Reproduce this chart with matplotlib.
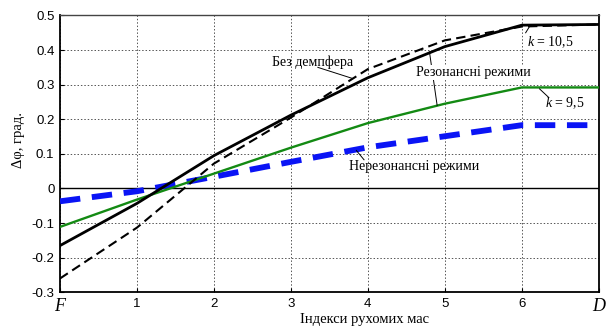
import matplotlib
matplotlib.use('Agg')
import matplotlib.pyplot as plt

# x positions: F, 1..6, D
x_pos = [0, 1, 2, 3, 4, 5, 6, 7]
x_labels = ['F', '1', '2', '3', '4', '5', '6', 'D']

# resonance, k = 10.5
res_solid = [-0.165, -0.043, 0.095, 0.212, 0.320, 0.410, 0.472, 0.474]
# without damper
no_damper = [-0.260, -0.113, 0.072, 0.205, 0.345, 0.428, 0.468, 0.474]
# resonance, k = 9.5
res_green = [-0.111, -0.032, 0.043, 0.118, 0.189, 0.245, 0.292, 0.292]
# non-resonance
non_res = [-0.037, -0.008, 0.034, 0.077, 0.119, 0.151, 0.183, 0.183]

y_ticks = [-0.3, -0.2, -0.1, 0, 0.1, 0.2, 0.3, 0.4, 0.5]
y_labels = ['-0.3', '-0.2', '-0.1', '0', '0.1', '0.2', '0.3', '0.4', '0.5']

SERIF = 'Liberation Serif'
SANS = 'Liberation Sans'

plt.rcParams.update({
    'mathtext.fontset': 'custom',
    'mathtext.rm': SERIF,
    'mathtext.it': SERIF + ':italic',
})

fig = plt.figure(figsize=(6.11, 3.29), dpi=100)
ax = fig.add_axes([0.0982, 0.1115, 0.8818, 0.8415])

ax.grid(True, linestyle=(0, (1.5, 2)), color='#555555', linewidth=0.7)
ax.axhline(0, color='black', linewidth=1.0, zorder=2)

ax.plot(x_pos, non_res, color='#0a14f5', linewidth=4.2,
        linestyle=(0, (3.5, 2)), zorder=3)
ax.plot(x_pos, res_green, color='#138a13', linewidth=1.7, zorder=4)
ax.plot(x_pos, no_damper, color='black', linewidth=1.5,
        linestyle=(0, (4.5, 2.5)), zorder=5)
ax.plot(x_pos, res_solid, color='black', linewidth=2.0, zorder=6)

ax.set_xlim(0, 7)
ax.set_ylim(-0.3, 0.5)
ax.set_xticks(x_pos)
ax.set_xticklabels(x_labels)
ax.set_yticks(y_ticks)
ax.set_yticklabels(y_labels)
ax.tick_params(direction='in', length=3, width=0.8, labelsize=9.5, pad=4)
for lbl in ax.get_yticklabels():
    lbl.set_fontfamily(SANS)
for i, lbl in enumerate(ax.get_xticklabels()):
    if x_labels[i] in ('F', 'D'):
        lbl.set_fontfamily(SERIF)
        lbl.set_fontstyle('italic')
        lbl.set_fontsize(13)
    else:
        lbl.set_fontfamily(SANS)
for sp in ax.spines.values():
    sp.set_linewidth(1.3)
    sp.set_color('black')
ax.spines['top'].set_linewidth(1.0)
ax.spines['top'].set_color('#444444')

ax.set_ylabel('Δφ, град.', fontfamily=SERIF, fontsize=10.5)
ax.yaxis.set_label_coords(-0.065, 0.55)
ax.set_xlabel('Індекси рухомих мас', fontfamily=SERIF, fontsize=10.5)
ax.xaxis.set_label_coords(0.565, -0.075)

txt = dict(fontfamily=SERIF, fontsize=10, zorder=8)
lead = dict(color='black', linewidth=0.7, zorder=7)

# Без демпфера
ax.text(2.75, 0.365, 'Без демпфера', ha='left', va='center', **txt)
ax.plot([3.35, 3.8], [0.35, 0.318], **lead)

# Резонансні режими
ax.plot([4.8, 4.9], [0.395, 0.24], **lead)
ax.text(4.62, 0.335, 'Резонансні режими', ha='left', va='center',
        bbox=dict(facecolor='white', edgecolor='none', pad=0.5), **txt)

# k = 10,5
ax.plot([6.1, 6.05], [0.468, 0.45], **lead)
ax.text(6.07, 0.422, '$\\mathit{k}$ = 10,5', ha='left', va='center', **txt)

# k = 9,5
ax.plot([6.23, 6.35], [0.288, 0.263], **lead)
ax.text(6.3, 0.247, '$\\mathit{k}$ = 9,5', ha='left', va='center', **txt)

# Нерезонансні режими
ax.plot([3.85, 3.95], [0.11, 0.083], **lead)
ax.text(3.75, 0.063, 'Нерезонансні режими', ha='left', va='center', **txt)

fig.savefig('out.png', dpi=100)
